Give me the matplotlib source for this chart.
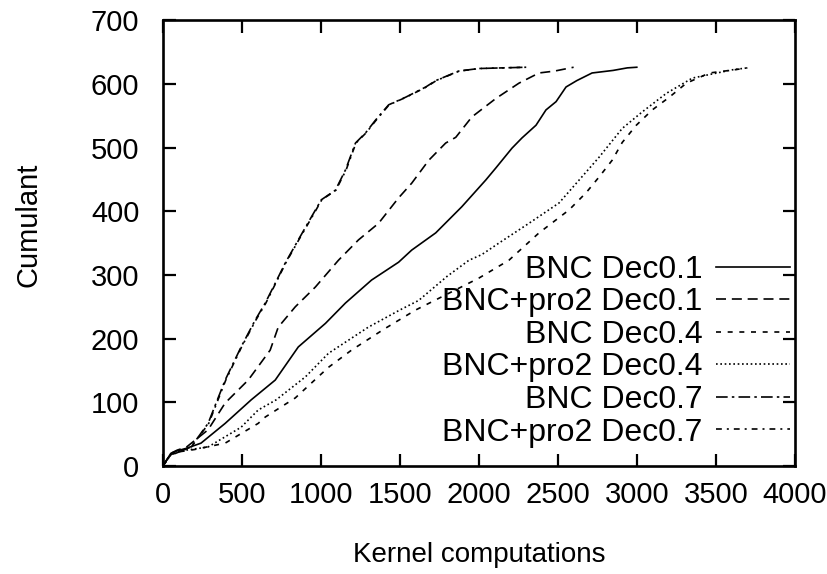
import matplotlib
matplotlib.use("Agg")
import matplotlib.pyplot as plt

plt.rcParams['font.family'] = ['Liberation Sans', 'DejaVu Sans']

# Cumulative counts against kernel computations for each configuration
bnc_d01_x = [0, 20, 50, 90, 150, 241, 394, 559, 711, 857, 1029, 1156, 1321, 1492, 1575, 1727,
             1892, 2044, 2108, 2210, 2273, 2362, 2425, 2489, 2552, 2620, 2717, 2850, 2940, 3000]
bnc_d01_y = [0, 8, 20, 24, 28, 36, 67, 104, 135, 187, 224, 256, 292, 320, 339, 366,
             407, 449, 468, 499, 515, 535, 559, 572, 595, 605, 617, 621, 625, 626]

pro2_d01_x = [0, 20, 50, 90, 150, 286, 394, 540, 679, 730, 838, 965, 1111, 1238, 1365, 1492,
              1575, 1683, 1790, 1854, 1956, 2108, 2254, 2381, 2480, 2600]
pro2_d01_y = [0, 8, 20, 25, 30, 57, 99, 135, 182, 218, 250, 281, 323, 355, 381, 421,
              444, 480, 507, 516, 548, 577, 601, 617, 620, 626]

bnc_d04_x = [0, 20, 50, 90, 200, 394, 603, 648, 838, 1048, 1194, 1400, 1600, 1800, 2000, 2190,
             2381, 2571, 2679, 2762, 2844, 2908, 2997, 3098, 3206, 3314, 3460, 3619, 3700]
bnc_d04_y = [0, 7, 18, 22, 26, 36, 67, 77, 107, 155, 182, 215, 245, 270, 295, 323,
             366, 402, 429, 454, 480, 508, 535, 559, 579, 601, 617, 622, 625]

pro2_d04_x = [0, 20, 50, 90, 286, 495, 603, 717, 794, 902, 1048, 1300, 1500, 1619, 1800, 1937,
              2019, 2127, 2317, 2508, 2635, 2762, 2908, 3035, 3187, 3352, 3606, 3700]
pro2_d04_y = [0, 7, 18, 23, 30, 61, 88, 104, 119, 140, 177, 218, 245, 260, 298, 323,
              332, 350, 381, 413, 449, 485, 530, 556, 585, 609, 622, 625]

bnc_d07_x = [0, 20, 50, 76, 178, 286, 394, 495, 584, 648, 711, 775, 857, 940, 1003, 1092,
             1156, 1219, 1283, 1346, 1429, 1537, 1664, 1727, 1873, 2000, 2150, 2300]
bnc_d07_y = [0, 8, 18, 20, 30, 67, 135, 187, 229, 256, 287, 319, 355, 391, 418, 433,
             465, 507, 523, 543, 567, 579, 595, 605, 620, 624, 625, 626]

pro2_d07_x = [0, 20, 50, 80, 180, 290, 398, 498, 588, 652, 714, 778, 860, 944, 1006, 1095,
              1160, 1222, 1286, 1350, 1432, 1540, 1668, 1730, 1876, 2004, 2150, 2300]
pro2_d07_y = [0, 8, 18, 20, 30, 67, 135, 187, 229, 256, 287, 319, 355, 391, 418, 433,
              465, 507, 523, 543, 567, 579, 595, 605, 620, 624, 625, 626]

labels = ["BNC Dec0.1", "BNC+pro2 Dec0.1", "BNC Dec0.4",
          "BNC+pro2 Dec0.4", "BNC Dec0.7", "BNC+pro2 Dec0.7"]
x_ticks = [0, 500, 1000, 1500, 2000, 2500, 3000, 3500, 4000]
y_ticks = [0, 100, 200, 300, 400, 500, 600, 700]

series = [
    (bnc_d01_x, bnc_d01_y, '-'),
    (pro2_d01_x, pro2_d01_y, (0, (6, 3.5))),
    (bnc_d04_x, bnc_d04_y, (0, (3, 4))),
    (pro2_d04_x, pro2_d04_y, (0, (1, 1.6))),
    (bnc_d07_x, bnc_d07_y, (0, (7, 2.5, 1.5, 2.5))),
    (pro2_d07_x, pro2_d07_y, (0, (3.5, 3, 1.2, 3))),
]

fig = plt.figure(figsize=(8.27, 5.74), dpi=100)
ax = fig.add_axes([0.197, 0.188, 0.764, 0.777])

for (xs, ys, ls), lab in zip(series, labels):
    ax.plot(xs, ys, color='black', linewidth=1.2, linestyle=ls, label=lab)

ax.set_xlim(0, 4000)
ax.set_ylim(0, 700)
ax.set_xticks(x_ticks)
ax.set_yticks(y_ticks)
ax.tick_params(direction='in', length=9, width=1.6, top=True, right=True,
               labelsize=21, color='black')
ax.tick_params(axis='x', pad=11)
ax.tick_params(axis='y', pad=17)
for sp in ax.spines.values():
    sp.set_linewidth(1.9)

ax.set_xlabel("Kernel computations", fontsize=20)
ax.set_ylabel("Cumulant", fontsize=21)
ax.xaxis.set_label_coords(0.5, -0.17)
ax.yaxis.set_label_coords(-0.19, 0.54)

leg = ax.legend(loc='lower right', bbox_to_anchor=(1.0, 0.03), markerfirst=False,
                frameon=False, fontsize=23, handlelength=2.3, handletextpad=0.43,
                labelspacing=0.08, borderaxespad=0.0, borderpad=0.16)

fig.savefig("out.png", dpi=100)
